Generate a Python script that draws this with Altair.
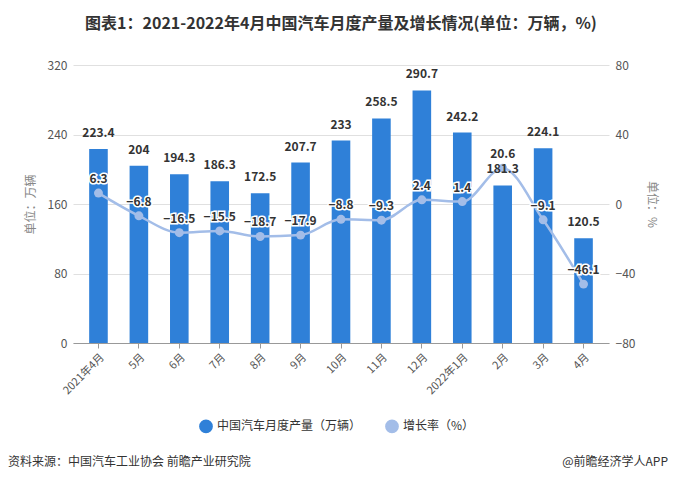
import altair as alt
import pandas as pd

months = ["2021年4月", "5月", "6月", "7月", "8月", "9月", "10月", "11月", "12月",
          "2022年1月", "2月", "3月", "4月"]
production = [223.4, 204, 194.3, 186.3, 172.5, 207.7, 233, 258.5, 290.7, 242.2, 181.3, 224.1, 120.5]
growth = [6.3, -6.8, -16.5, -15.5, -18.7, -17.9, -8.8, -9.3, 2.4, 1.4, 20.6, -9.1, -46.1]

S1 = "中国汽车月度产量（万辆）"
S2 = "增长率（%）"
FONT = "Noto Sans CJK SC"

df = pd.DataFrame({"month": months, "prod": production, "growth": growth,
                   "s1": [S1] * len(months), "s2": [S2] * len(months)})

xenc = alt.X("month:N", sort=months, title=None,
             scale=alt.Scale(paddingInner=0.54, paddingOuter=0.4),
             axis=alt.Axis(labelAngle=-45, labelFontSize=11, labelColor="#555",
                           domainColor="#999", tickColor="#999", tickSize=5,
                           labelPadding=3))
xs = alt.X("month:N", sort=months)

color_scale = alt.Scale(domain=[S1, S2], range=["#2f80d8", "#a3bde8"])
left_scale = alt.Scale(domain=[0, 320], nice=False)
right_scale = alt.Scale(domain=[-80, 80], nice=False)

base = alt.Chart(df)

bars = base.mark_bar(color="#2f80d8").encode(
    x=xenc,
    y=alt.Y("prod:Q", scale=left_scale,
            axis=alt.Axis(values=[0, 80, 160, 240, 320], title="单位：万辆",
                          titleFontWeight="normal", titleFontSize=12, titleColor="#888",
                          titlePadding=10, labelFontSize=12, labelColor="#555",
                          ticks=False, domain=False, gridColor="#e0e0e0",
                          labelPadding=6)),
    color=alt.Color("s1:N", scale=color_scale, title=None,
                    legend=alt.Legend(orient="none", legendX=126, legendY=354,
                                      direction="horizontal", symbolType="circle",
                                      symbolSize=150, labelFontSize=12, labelColor="#333",
                                      columnPadding=20, labelFont=FONT)),
)

line = base.mark_line(strokeWidth=2.5, interpolate="monotone").encode(
    x=xs,
    y=alt.Y("growth:Q", scale=right_scale,
            axis=alt.Axis(values=[-80, -40, 0, 40, 80], title="单位：%", orient="right",
                          titleFontWeight="normal", titleFontSize=12, titleColor="#888",
                          titlePadding=10, labelFontSize=12, labelColor="#555",
                          ticks=False, domain=False, grid=False, labelPadding=6)),
    color=alt.Color("s2:N", scale=color_scale, legend=None),
)
points = base.mark_point(filled=True, size=80, opacity=1).encode(
    x=xs, y=alt.Y("growth:Q", scale=right_scale, axis=None),
    color=alt.Color("s2:N", scale=color_scale, legend=None),
)

bar_text = base.mark_text(dy=-9, fontSize=12, fontWeight="bold", color="#333",
                          baseline="bottom").encode(
    x=xs, y=alt.Y("prod:Q", scale=left_scale, axis=None), text=alt.Text("prod:Q"))

halo = base.mark_text(dy=-14, fontSize=12, fontWeight="bold", color="white",
                      stroke="white", strokeWidth=3).encode(
    x=xs, y=alt.Y("growth:Q", scale=right_scale, axis=None), text=alt.Text("growth:Q"))
line_text = base.mark_text(dy=-14, fontSize=12, fontWeight="bold", color="#333").encode(
    x=xs, y=alt.Y("growth:Q", scale=right_scale, axis=None), text=alt.Text("growth:Q"))

foot = pd.DataFrame({"t": ["资料来源：中国汽车工业协会 前瞻产业研究院"]})
foot2 = pd.DataFrame({"t": ["@前瞻经济学人APP"]})
footer_l = alt.Chart(foot).mark_text(align="left", baseline="middle", fontSize=12,
                                     color="#333").encode(
    x=alt.value(-65), y=alt.value(397), text="t:N")
footer_r = alt.Chart(foot2).mark_text(align="right", baseline="middle", fontSize=12,
                                      color="#333").encode(
    x=alt.value(595), y=alt.value(397), text="t:N")

chart = alt.layer(bars, line, points, bar_text, halo, line_text, footer_l, footer_r).resolve_scale(
    y="independent", color="shared"
).properties(
    width=536, height=278,
    autosize=alt.AutoSizeParams(type="none"),
    padding={"left": 65, "top": 57, "right": 61, "bottom": 131},
    title=alt.TitleParams("图表1：2021-2022年4月中国汽车月度产量及增长情况(单位：万辆，%)",
                          fontSize=16, fontWeight="bold", color="#333", anchor="middle",
                          offset=27, font=FONT),
).configure(font=FONT).configure_view(stroke=None)

chart.save("out.html", embed_options={"renderer": "svg", "actions": False})
